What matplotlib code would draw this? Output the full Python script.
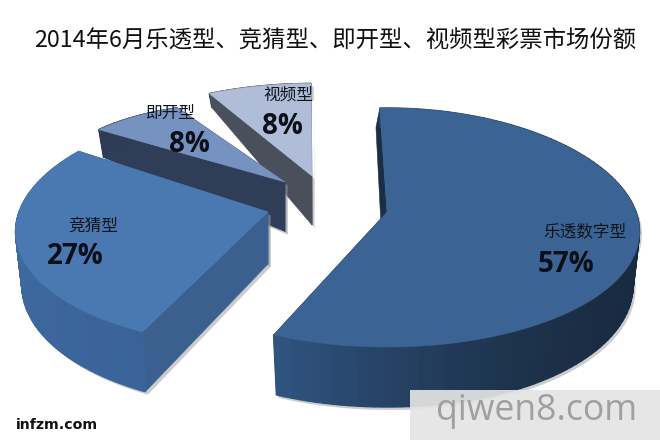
import numpy as np
import matplotlib
matplotlib.use("Agg")
import matplotlib.pyplot as plt
from matplotlib.patches import Polygon, Rectangle
from matplotlib.colors import to_rgb

title = "2014年6月乐透型、竞猜型、即开型、视频型彩票市场份额"
categories = ["乐透数字型", "竞猜型", "即开型", "视频型"]
shares = [57, 27, 8, 8]
pct_labels = ["57%", "27%", "8%", "8%"]

# slice layout (exploded centres and per-slice view tweaks), in pixels
centers = [(387, 212), (268, 212), (285, 182), (312, 176)]
starts = [-2, 206, 298, 331]
# x scale, y scale, shear of y against x
scales = [(1.0, 1.0, 0.0), (1.0, 1.0, 0.0), (0.92, 0.75, 0.069), (1.0, 0.89, 0.0)]
top_colors = ["#3b6494", "#4a78b0", "#7692c0", "#afbdd9"]
rim_from = ["#305582", "#416ca3", "#2e3d55", "#4a4f5c"]
rim_to = ["#192b40", "#3a6499", "#2e3d55", "#4a4f5c"]
cut_colors = ["#1a2e47", "#3b608f", "#2f3e56", "#4a4f5c"]
cut_lean = [-4, 0, 0, 0]
cat_pos = [(585, 232), (93, 226), (171, 113), (288, 95)]
pct_pos = [(566, 265), (75, 257), (189, 145), (282, 127)]

RX, K1, K2, P, SHRINK = 249.0, 119.5, 15.5, 0.17, 0.975


def project(center, scale, ang):
    t = np.radians(ang)
    u, v = np.sin(t), -np.cos(t)
    dx = scale[0] * u * RX * (1 + P * v)
    dy = scale[1] * v * (K1 + K2 * v) + scale[2] * dx
    return np.column_stack([center[0] + dx, center[1] + dy])


def depth(y):
    return np.interp(y, [94, 130, 176, 212, 335], [14, 28, 49, 52, 60])


def mix(a, b, f):
    a, b = np.array(to_rgb(a)), np.array(to_rgb(b))
    return tuple(a + (b - a) * f)


fig = plt.figure(figsize=(6.6, 4.4), dpi=100, facecolor="white")
ax = fig.add_axes([0, 0, 1, 1])
ax.set_xlim(0, 660)
ax.set_ylim(440, 0)
ax.axis("off")

for i in [3, 2, 1, 0]:
    sweep = shares[i] / sum(shares) * 360
    a0 = starts[i]
    angs = np.linspace(a0, a0 + sweep, 120)
    arc = project(centers[i], scales[i], angs)
    apex = np.array(centers[i], float)
    low = arc + np.column_stack([np.zeros(len(arc)), depth(arc[:, 1])])
    low[:, 0] = apex[0] + (low[:, 0] - apex[0]) * SHRINK
    apex_low = apex + [0, depth(apex[1])]

    # cut faces
    lean = [cut_lean[i], 0]
    edge = np.array([apex, apex_low + lean, low[0] + lean, arc[0]])
    edge2 = np.array([apex, apex_low, low[-1], arc[-1]])

    # soft shadow
    sil = np.vstack([arc, low[::-1]])
    for poly in (sil, edge, edge2):
        ax.add_patch(Polygon(poly + [2.5, 3], closed=True, fc="#8a9098", ec="none",
                             alpha=0.45, zorder=i * -10 - 5))

    for e in sorted([edge, edge2], key=lambda q: q[:, 1].max()):
        ax.add_patch(Polygon(e, closed=True, fc=cut_colors[i], ec=cut_colors[i], lw=0.4, zorder=i * -10 - 4))

    # outer rim
    n = len(arc) - 1
    for k in range(n):
        if i == 0:
            f = np.clip((640 - arc[k, 0]) / 365, 0, 1) ** 1.5
            c = mix(rim_to[i], rim_from[i], f)
        else:
            c = mix(rim_from[i], rim_to[i], k / n if i != 1 else 1 - k / n)
        q = [arc[k], arc[k + 1], low[k + 1], low[k]]
        ax.add_patch(Polygon(q, closed=True, fc=c, ec=c, lw=1.0, zorder=i * -10 - 3))

    # top face
    ax.add_patch(Polygon(np.vstack([apex, arc]), closed=True, fc=top_colors[i], ec=top_colors[i], lw=0.4,
                         zorder=i * -10 - 2))

cjk = ["Noto Sans CJK SC", "DejaVu Sans"]
ax.text(335, 41, title, ha="center", va="center", fontsize=16.8, family=cjk, color="#111111")
for i in range(4):
    ax.text(*cat_pos[i], categories[i], ha="center", va="center", fontsize=12, family=cjk,
            fontweight="medium", color="#10141c", zorder=5)
    ax.text(*pct_pos[i], pct_labels[i], ha="center", va="center", fontsize=20, family="Open Sans",
            fontweight="bold", color="#0b0f18", zorder=5)

ax.text(16, 425, "infzm.com", ha="left", va="center", fontsize=10.2, family="DejaVu Sans", fontweight="bold",
        color="#111111")
ax.add_patch(Rectangle((410, 390), 250, 50, fc="#e4e4e4", ec="none", alpha=0.92, zorder=6))
ax.text(537, 411, "qiwen8.com", ha="center", va="center", fontsize=25.6, family="Open Sans", color="#a0a0a2",
        zorder=7)

fig.savefig("out.png", dpi=100)
